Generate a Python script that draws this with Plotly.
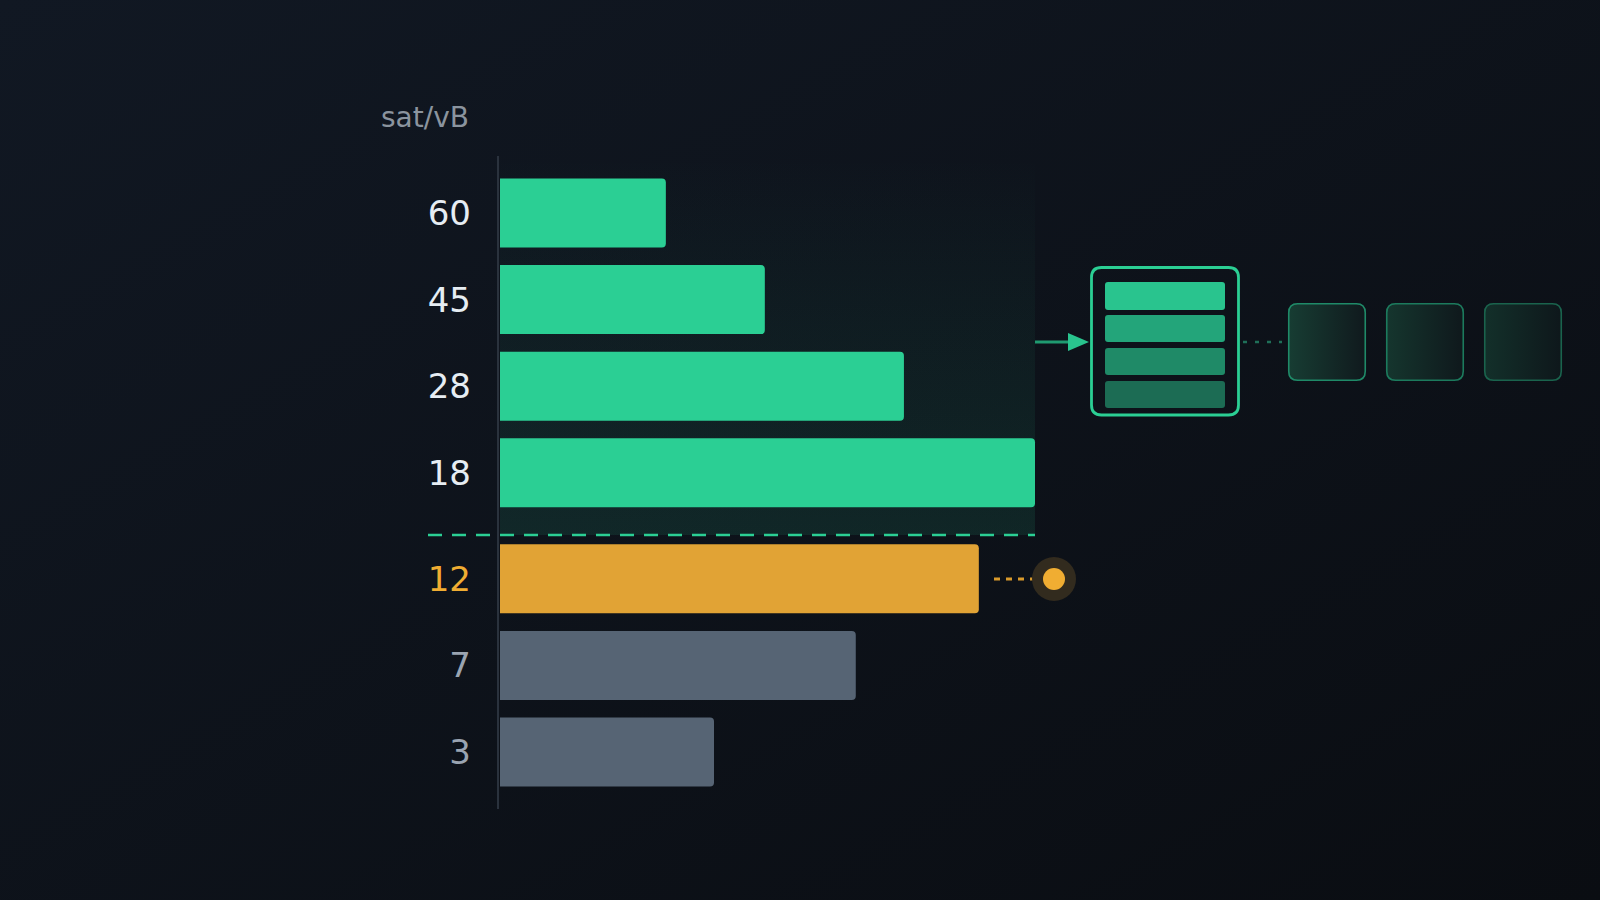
import base64
import plotly.graph_objects as go

# ---------------- data ----------------
fee_rates = [60, 45, 28, 18, 12, 7, 3]            # sat/vB buckets
queued_mvb = [0.62, 0.99, 1.51, 2.00, 1.79, 1.33, 0.80]  # queued size per bucket
next_block_min_rate = 18                           # lowest rate in next block
your_fee_rate = 12                                 # highlighted tx rate
axis_title = "sat/vB"

# ---------------- geometry / styles ----------------
W_FIG, H_FIG = 1600, 900
L, T, R, B = 498, 156, 564, 91
PW = W_FIG - L - R
PH = H_FIG - T - B
PX_PER_UNIT = 267.5
X0 = -2 / PX_PER_UNIT
X1 = (W_FIG - R - 500) / PX_PER_UNIT
SLOT = 86.6
GAP = 0.224
Y_TOP = -(213 - T) / SLOT
Y_BOT = Y_TOP + PH / SLOT

GREEN = "#2bcf94"
ORANGE = "#e1a335"
GREY = "#566474"
FONT = "DejaVu Sans"


def fx(p):
    return (p - L) / PW


def fy(p):
    return 1 - (p - T) / PH


def rrect_path(x0, y0, x1, y1, r):
    pts = [
        ("M", [(x0 + r, y0)]),
        ("L", [(x1 - r, y0)]),
        ("Q", [(x1, y0), (x1, y0 + r)]),
        ("L", [(x1, y1 - r)]),
        ("Q", [(x1, y1), (x1 - r, y1)]),
        ("L", [(x0 + r, y1)]),
        ("Q", [(x0, y1), (x0, y1 - r)]),
        ("L", [(x0, y0 + r)]),
        ("Q", [(x0, y0), (x0 + r, y0)]),
    ]
    s = ""
    for cmd, ps in pts:
        s += cmd + " " + " ".join(f"{fx(a):.5f},{fy(b):.5f}" for a, b in ps) + " "
    return s + "Z"


def svg_image(svg, x0, y0, x1, y1, layer="below"):
    src = "data:image/svg+xml;base64," + base64.b64encode(svg.encode()).decode()
    return dict(source=src, xref="paper", yref="paper", x=fx(x0), y=fy(y0),
                sizex=fx(x1) - fx(x0), sizey=fy(y0) - fy(y1), sizing="stretch",
                xanchor="left", yanchor="top", layer=layer)


# bar positions / colours derived from the data
ypos = [i + (GAP if r < next_block_min_rate else 0) for i, r in enumerate(fee_rates)]
bar_colors = [GREEN if r >= next_block_min_rate else (ORANGE if r == your_fee_rate else GREY)
              for r in fee_rates]
label_colors = ["#e6edf3" if r >= next_block_min_rate else ("#f0ad32" if r == your_fee_rate else "#9aa4b1")
                for r in fee_rates]
ticktext = [f"<span style='color:{c}'>{r}</span>" for r, c in zip(fee_rates, label_colors)]

fig = go.Figure()
fig.add_trace(go.Bar(
    x=queued_mvb, y=ypos, orientation="h", width=0.797,
    marker=dict(color=bar_colors, line=dict(width=0)),
    hoverinfo="skip", showlegend=False,
))

images = []
# background diagonal gradient
bg_svg = ("<svg xmlns='http://www.w3.org/2000/svg' width='1600' height='900' viewBox='0 0 1600 900' preserveAspectRatio='none'>"
          "<defs><linearGradient id='g' x1='0' y1='0' x2='1' y2='1'>"
          "<stop offset='0' stop-color='#111823'/><stop offset='1' stop-color='#0a0d12'/>"
          "</linearGradient></defs><rect width='1600' height='900' fill='url(#g)'/></svg>")
images.append(svg_image(bg_svg, 0, 0, 1600, 900))
# next-block region gradient
reg_svg = ("<svg xmlns='http://www.w3.org/2000/svg' width='100' height='100' viewBox='0 0 100 100' preserveAspectRatio='none'>"
           "<defs><linearGradient id='g' x1='0' y1='0' x2='0' y2='1'>"
           "<stop offset='0' stop-color='#2bcf94' stop-opacity='0'/>"
           "<stop offset='1' stop-color='#2bcf94' stop-opacity='0.11'/>"
           "</linearGradient></defs><rect width='100' height='100' fill='url(#g)'/></svg>")
images.append(svg_image(reg_svg, 500, 156, 1035, 535))
# queued block fills
box_fills = [("#173d33", "#10191d"), ("#15362e", "#0f181c"), ("#13302a", "#0e171b")]
box_x = [1288, 1386, 1484]
for (c0, c1), bx in zip(box_fills, box_x):
    s = ("<svg xmlns='http://www.w3.org/2000/svg' width='78' height='78' viewBox='0 0 78 78' preserveAspectRatio='none'>"
         f"<defs><linearGradient id='g' x1='0' y1='0' x2='1' y2='0'><stop offset='0' stop-color='{c0}'/>"
         f"<stop offset='1' stop-color='{c1}'/></linearGradient></defs>"
         "<rect x='0' y='0' width='78' height='78' rx='9' ry='9' fill='url(#g)'/></svg>")
    images.append(svg_image(s, bx, 303, bx + 78, 381))

shapes = []
# y axis line
shapes.append(dict(type="line", xref="paper", yref="paper", x0=fx(498), x1=fx(498), y0=fy(156), y1=fy(809),
                   line=dict(color="#2a323d", width=2), layer="below"))
# threshold dashed line
shapes.append(dict(type="line", xref="paper", yref="paper", x0=fx(428), x1=fx(1035), y0=fy(535), y1=fy(535),
                   line=dict(color=GREEN, width=2.5, dash="14px,10px")))
# arrow to next block
shapes.append(dict(type="line", xref="paper", yref="paper", x0=fx(1035), x1=fx(1070), y0=fy(342), y1=fy(342),
                   line=dict(color="#1f9a70", width=3)))
tri = f"M {fx(1068):.5f},{fy(333):.5f} L {fx(1089):.5f},{fy(342):.5f} L {fx(1068):.5f},{fy(351):.5f} Z"
shapes.append(dict(type="path", xref="paper", yref="paper", path=tri, fillcolor="#29c48e",
                   line=dict(width=0)))
# next block outline + rows
shapes.append(dict(type="path", xref="paper", yref="paper", path=rrect_path(1091.5, 267.5, 1238.5, 415, 10),
                   line=dict(color=GREEN, width=2.8)))
row_colors = ["#29c48e", "#23a57a", "#1f8a67", "#1c6c54"]
row_y = [(282, 310), (315, 342), (348, 375), (381, 408)]
for c, (a, b) in zip(row_colors, row_y):
    shapes.append(dict(type="path", xref="paper", yref="paper", path=rrect_path(1105, a, 1225, b, 3),
                       fillcolor=c, line=dict(width=0)))
# dotted connector to queued blocks
shapes.append(dict(type="line", xref="paper", yref="paper", x0=fx(1243), x1=fx(1282), y0=fy(342), y1=fy(342),
                   line=dict(color="#1f6f58", width=2.5, dash="4px,8px")))
# queued block outlines
box_lines = ["#1f8a68", "#1c7a5d", "#1a634d"]
for c, bx in zip(box_lines, box_x):
    shapes.append(dict(type="path", xref="paper", yref="paper", path=rrect_path(bx + 0.75, 303.75, bx + 77.25, 380.25, 9),
                       line=dict(color=c, width=1.6)))
# your tx marker
shapes.append(dict(type="line", xref="paper", yref="paper", x0=fx(994), x1=fx(1033), y0=fy(579), y1=fy(579),
                   line=dict(color="#d99a2b", width=3, dash="6px,6px")))
shapes.append(dict(type="circle", xref="paper", yref="paper", x0=fx(1032), x1=fx(1076), y0=fy(601), y1=fy(557),
                   fillcolor="#322b1e", line=dict(width=0)))
shapes.append(dict(type="circle", xref="paper", yref="paper", x0=fx(1043), x1=fx(1065), y0=fy(590), y1=fy(568),
                   fillcolor="#f0ad32", line=dict(width=0)))

annotations = [dict(text=axis_title, xref="paper", yref="paper", x=fx(471), y=fy(117),
                    xanchor="right", yanchor="middle", showarrow=False,
                    font=dict(family=FONT, size=28, color="#8b949e"))]

fig.update_layout(
    width=W_FIG, height=H_FIG,
    margin=dict(l=L, r=R, t=T, b=B, pad=0),
    paper_bgcolor="#0e131a", plot_bgcolor="rgba(0,0,0,0)",
    barcornerradius=4,
    xaxis=dict(range=[X0, X1], visible=False, fixedrange=True),
    yaxis=dict(range=[Y_BOT, Y_TOP], tickvals=ypos, ticktext=ticktext, showgrid=False,
               zeroline=False, showline=False, ticks="", ticklabelstandoff=26,
               tickfont=dict(family=FONT, size=34, color="#e6edf3"), fixedrange=True),
    images=images, shapes=shapes, annotations=annotations,
    showlegend=False,
)

fig.write_html(
    "out.html",
    config={"displayModeBar": False},
    post_script="document.body.style.margin='0';document.body.style.overflow='hidden';"
                "document.documentElement.style.background='#0e131a';",
)
